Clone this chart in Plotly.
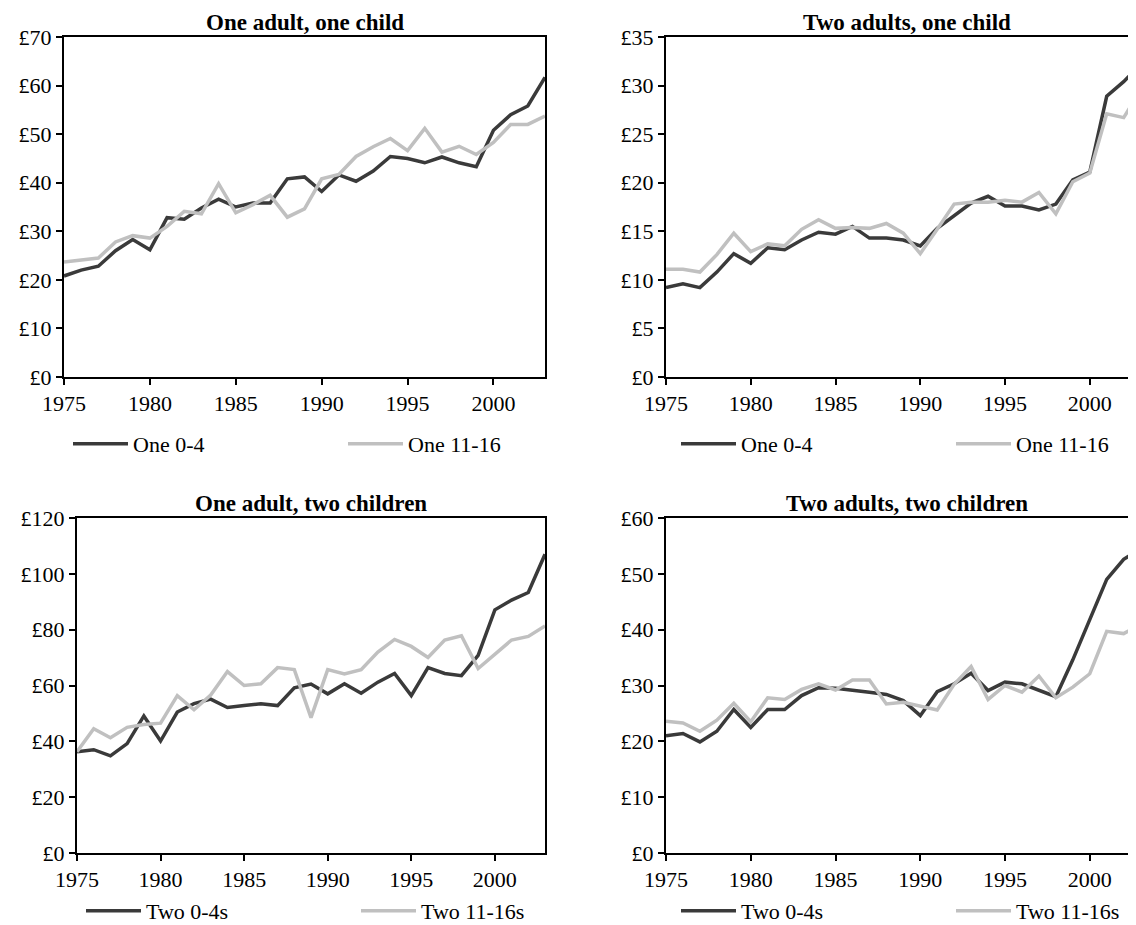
import plotly.graph_objects as go

years = list(range(1975, 2004))

ta_dark = [20.8, 22, 22.8, 26, 28.3, 26.2, 32.8, 32.5, 34.8, 36.6, 35, 35.8, 35.8, 40.8, 41.2, 38.2, 41.6, 40.3, 42.4, 45.4, 45, 44.1, 45.3, 44.1, 43.3, 50.8, 54, 55.8, 61.7]
ta_light = [23.7, 24.1, 24.5, 27.8, 29.1, 28.6, 31, 34.1, 33.6, 39.8, 33.8, 35.5, 37.4, 32.9, 34.6, 40.8, 41.7, 45.4, 47.4, 49.1, 46.6, 51.2, 46.3, 47.5, 45.8, 48.3, 52, 52, 53.7]
tb_dark = [9.2, 9.6, 9.2, 10.8, 12.7, 11.7, 13.3, 13.1, 14.1, 14.9, 14.7, 15.5, 14.3, 14.3, 14.1, 13.5, 15.3, 16.6, 17.9, 18.6, 17.6, 17.6, 17.2, 17.8, 20.3, 21.1, 28.9, 30.4, 32.2]
tb_light = [11.1, 11.1, 10.8, 12.6, 14.8, 12.9, 13.7, 13.5, 15.2, 16.2, 15.3, 15.4, 15.3, 15.8, 14.8, 12.7, 15.2, 17.8, 18.0, 18.0, 18.2, 18.0, 19.0, 16.8, 20.1, 21.0, 27.1, 26.7, 29.5]
ba_dark = [36.3, 37, 34.8, 39.2, 49.1, 40.1, 50.5, 53.5, 55.1, 52.1, 52.8, 53.5, 52.8, 59.2, 60.5, 57, 60.6, 57.2, 61.2, 64.3, 56.4, 66.4, 64.3, 63.5, 70.8, 87.1, 90.6, 93.3, 107]
ba_light = [36.3, 44.5, 41.3, 45, 46, 46.5, 56.4, 51.3, 56.6, 65, 60, 60.6, 66.4, 65.7, 48.5, 65.7, 64.1, 65.7, 72, 76.5, 74, 70, 76.3, 77.8, 66.1, 71, 76.3, 77.6, 81.3]
bb_dark = [21, 21.4, 19.9, 21.8, 25.7, 22.5, 25.7, 25.7, 28.2, 29.6, 29.5, 29.2, 28.8, 28.4, 27.3, 24.6, 28.9, 30.3, 32.2, 29.1, 30.6, 30.3, 29.2, 28, 34.6, 41.9, 49, 52.6, 54.5]
bb_light = [23.6, 23.3, 21.8, 23.8, 26.8, 23.5, 27.8, 27.5, 29.3, 30.3, 29.2, 31, 31, 26.7, 27, 26.3, 25.6, 30.2, 33.4, 27.5, 30, 28.8, 31.7, 27.8, 29.7, 32.1, 39.7, 39.3, 41]

titles = ["One adult, one child", "Two adults, one child", "One adult, two children", "Two adults, two children"]
names_one = ["One 0-4", "One 11-16"]
names_two = ["Two 0-4s", "Two 11-16s"]
ymax = [70, 35, 120, 60]
ydtick = [10, 5, 20, 10]

W, H = 1136, 925
DARK, LIGHT = "#3a3a3a", "#c0c0c0"
FONT = "Liberation Serif"

panels = [
    (ta_dark, ta_light, names_one),
    (tb_dark, tb_light, names_one),
    (ba_dark, ba_light, names_two),
    (bb_dark, bb_light, names_two),
]
xpx = [(56, 537), (658, 1136), (69, 537), (658, 1136)]
ypx = [(29, 369), (29, 369), (510, 845), (510, 845)]
legy = [436, 436, 903, 903]
xends = [2003, 2003.2, 2003, 2003.2]

fig = go.Figure()
for i, (d, l, nm) in enumerate(panels):
    ax = "" if i == 0 else str(i + 1)
    lg = "legend" if i == 0 else "legend" + str(i + 1)
    for vals, col, n in [(d, DARK, nm[0]), (l, LIGHT, nm[1])]:
        fig.add_trace(go.Scatter(x=years, y=vals, mode="lines", name=n,
                                 line=dict(color=col, width=3.5),
                                 xaxis="x" + ax, yaxis="y" + ax, legend=lg))
    xd = [xpx[i][0] / W, xpx[i][1] / W]
    yd = [1 - ypx[i][1] / H, 1 - ypx[i][0] / H]
    common = dict(showgrid=False, zeroline=False, showline=True, mirror=True,
                  linecolor="black", linewidth=2, ticks="outside", ticklen=6,
                  tickcolor="black", tickwidth=1.5, automargin=False,
                  tickfont=dict(size=22, family=FONT, color="black"))
    fig.layout["xaxis" + ax] = dict(domain=xd, anchor="y" + ax, range=[1975, xends[i]],
                                    tickvals=[1975, 1980, 1985, 1990, 1995, 2000], **common)
    fig.layout["yaxis" + ax] = dict(domain=yd, anchor="x" + ax, range=[0, ymax[i]],
                                    dtick=ydtick[i], tickprefix="£", **common)
    lx = (xpx[i][0] + 4) if i % 2 == 0 else (xpx[i][0] + 10)
    fig.layout[lg] = dict(orientation="h", x=lx / W, xanchor="left",
                          y=1 - legy[i] / H, yanchor="middle", entrywidth=205,
                          entrywidthmode="pixels", bgcolor="rgba(0,0,0,0)",
                          tracegroupgap=0, itemwidth=55,
                          font=dict(size=22, family=FONT, color="black"))
    cx = (xpx[i][0] + (xpx[i][0] + 481 if i % 2 else xpx[i][1])) / 2
    fig.add_annotation(text="<b>" + titles[i] + "</b>", xref="paper", yref="paper",
                       x=cx / W, xanchor="center", y=yd[1], yanchor="bottom", yshift=0,
                       showarrow=False, font=dict(size=23, family=FONT, color="black"))

fig.update_layout(width=W, height=H, margin=dict(l=0, r=0, t=0, b=0, autoexpand=False),
                  paper_bgcolor="white", plot_bgcolor="white", showlegend=True)
fig.write_html("out.html")
